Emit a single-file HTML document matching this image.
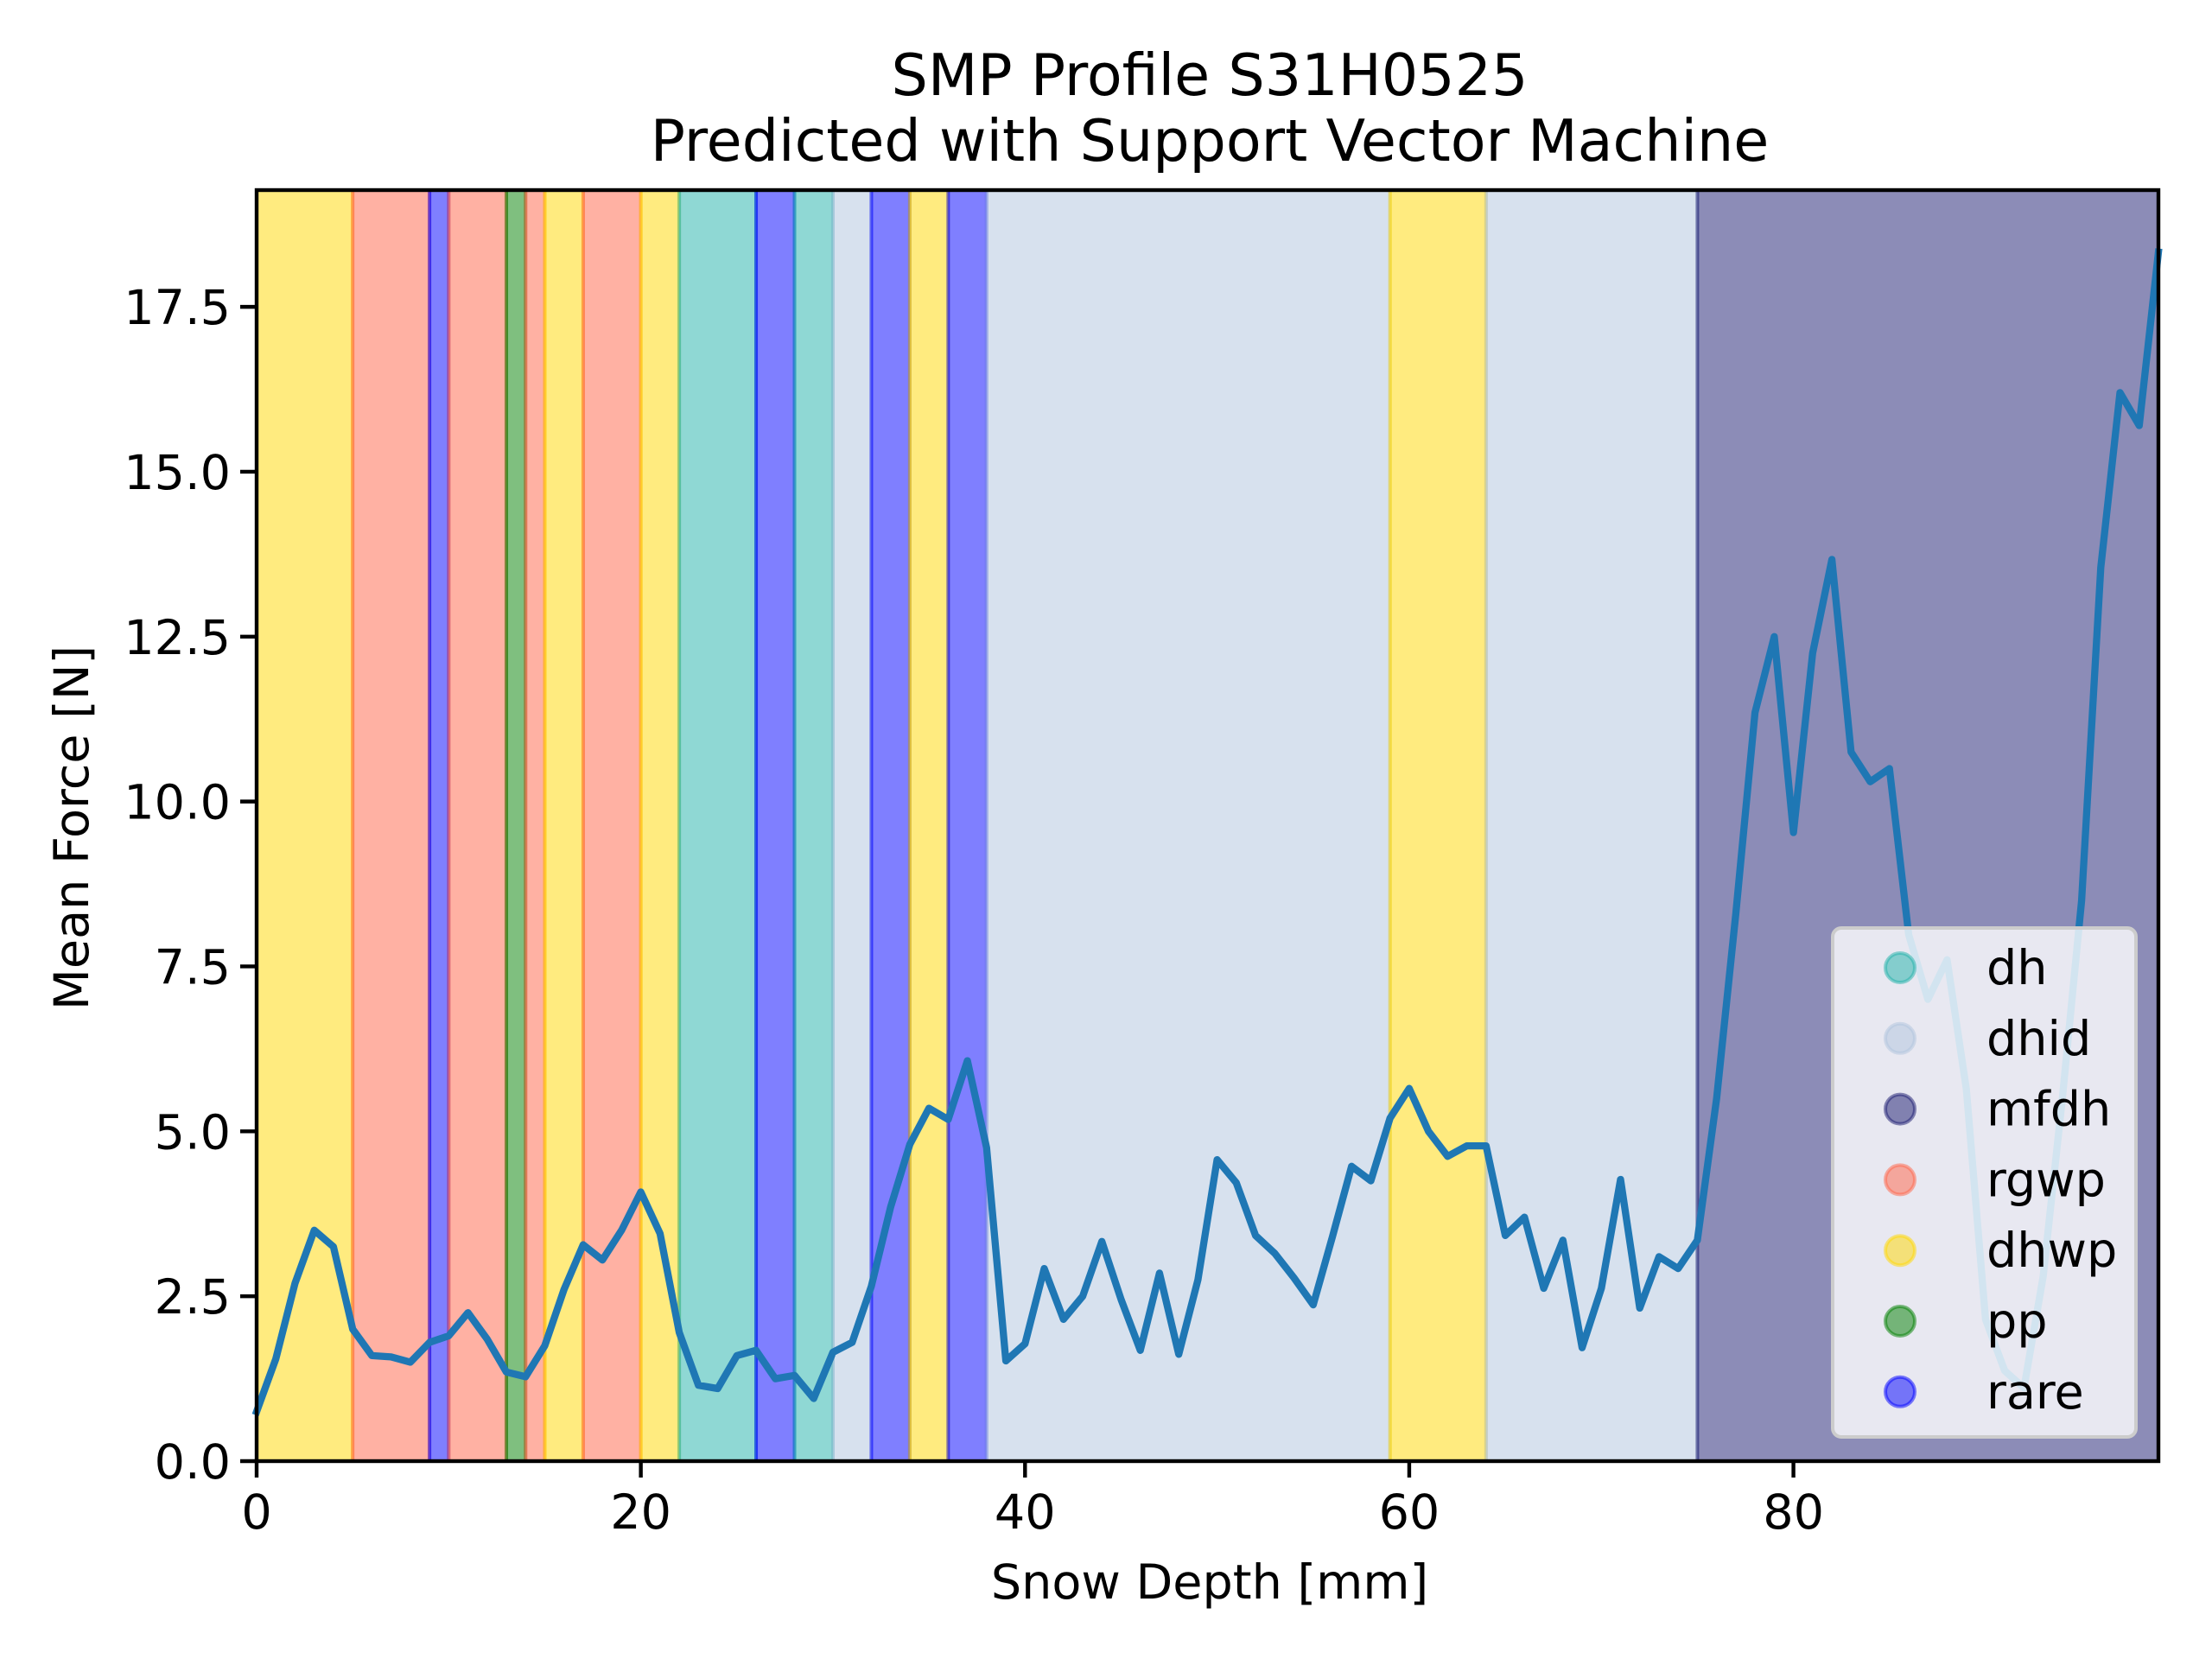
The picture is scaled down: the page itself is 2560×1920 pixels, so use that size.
<!DOCTYPE html>
<html><head><meta charset="utf-8"><style>
html,body{margin:0;padding:0;background:#fff;}
svg{display:block;font-family:"DejaVu Sans","Liberation Sans",sans-serif;}
</style></head><body>
<svg id="chart" width="2560" height="1920" viewBox="0 0 2560 1920" xmlns="http://www.w3.org/2000/svg">
<rect width="2560" height="1920" fill="#fff"/>
<g id="spans"></g>
<g id="lineg"></g>
<g id="axes"></g>
<g id="legend"></g>
<text x="1400" y="110" font-size="66.7" text-anchor="middle">SMP Profile S31H0525</text>
<text x="1400" y="186" font-size="66.7" text-anchor="middle">Predicted with Support Vector Machine</text>
<text x="1400" y="1850" font-size="55.6" text-anchor="middle">Snow Depth [mm]</text>
<text x="0" y="0" font-size="55.6" text-anchor="middle" transform="translate(102,958) rotate(-90)">Mean Force [N]</text>
</svg>
<script>
const forceValues = [0.75,1.55,2.7,3.5,3.25,2.0,1.6,1.58,1.5,1.8,1.9,2.25,1.85,1.35,1.28,1.75,2.6,3.28,3.05,3.5,4.08,3.45,1.95,1.15,1.1,1.6,1.68,1.25,1.3,0.95,1.65,1.8,2.65,3.85,4.8,5.35,5.18,6.07,4.75,1.52,1.78,2.92,2.15,2.5,3.33,2.45,1.68,2.85,1.62,2.75,4.57,4.22,3.42,3.15,2.78,2.37,3.4,4.47,4.25,5.2,5.65,5.0,4.62,4.78,4.78,3.42,3.7,2.62,3.35,1.72,2.62,4.27,2.32,3.1,2.92,3.35,5.5,8.3,11.35,12.5,9.53,12.25,13.67,10.75,10.3,10.5,7.98,7.0,7.6,5.64,2.15,1.37,1.11,2.8,5.5,8.5,13.55,16.2,15.7,18.33];
const spanStarts = [0,5,9,10,13,14,15,17,20,22,26,28,30,32,34,36,38,59,64,75];
const spanEnds   = [5,9,10,13,14,15,17,20,22,26,28,30,32,34,36,38,59,64,75,99];
const spanClasses = ["dhwp","rgwp","rare","rgwp","pp","rgwp","dhwp","rgwp","dhwp","dh","rare","dh","dhid","rare","dhwp","rare","dhid","dhwp","dhid","mfdh"];
const legendLabels = ["dh","dhid","mfdh","rgwp","dhwp","pp","rare"];
const yTicks = [0,2.5,5,7.5,10,12.5,15,17.5];
const yTickLabels = ["0.0","2.5","5.0","7.5","10.0","12.5","15.0","17.5"];
const xTicks = [0,20,40,60,80];
const xTickLabels = ["0","20","40","60","80"];

const colors = {dh:"#20b2aa",dhid:"#b0c4de",mfdh:"#191970",rgwp:"#ff6347",dhwp:"#ffd700",pp:"#008000",rare:"#0000ff"};
const L=297,R=2498,T=220,B=1691,XMAX=99,YMAX=19.27;
const xs=v=>L+(v/XMAX)*(R-L);
const ys=v=>B-(v/YMAX)*(B-T);
const NS="http://www.w3.org/2000/svg";
function mk(tag,attrs,parent){const e=document.createElementNS(NS,tag);for(const k in attrs)e.setAttribute(k,attrs[k]);parent.appendChild(e);return e;}

const spans=document.getElementById('spans');
for(let i=0;i<spanStarts.length;i++){
  const c=colors[spanClasses[i]];
  const r=mk('rect',{x:xs(spanStarts[i]),y:T,width:xs(spanEnds[i])-xs(spanStarts[i]),height:B-T,fill:c,'fill-opacity':0.5,stroke:c,'stroke-opacity':0.5,'stroke-width':4},spans);
  
  
}
const lineg=document.getElementById('lineg');
const pts=forceValues.map((v,i)=>xs(i).toFixed(1)+','+ys(v).toFixed(1)).join(' ');
const pl=mk('polyline',{points:pts,fill:'none',stroke:'#1f77b4','stroke-width':8.3,'stroke-linejoin':'round','stroke-linecap':'square'},lineg);



const axes=document.getElementById('axes');
const fr=mk('rect',{x:L,y:T,width:R-L,height:B-T,fill:'none',stroke:'#000','stroke-width':4.4},axes);


yTicks.forEach((v,i)=>{
  const t=mk('line',{x1:L-19,x2:L,y1:ys(v),y2:ys(v),stroke:'#000','stroke-width':4.4},axes);
  
  
  const tx=mk('text',{x:L-30,y:ys(v)+20,'font-size':55.6,'text-anchor':'end'},axes);
  tx.textContent=yTickLabels[i];
  
  
});
xTicks.forEach((v,i)=>{
  const t=mk('line',{x1:xs(v),x2:xs(v),y1:B,y2:B+19,stroke:'#000','stroke-width':4.4},axes);
  
  
  const tx=mk('text',{x:xs(v),y:B+78,'font-size':55.6,'text-anchor':'middle'},axes);
  tx.textContent=xTickLabels[i];
  
  
});

const lg=document.getElementById('legend');
const box=mk('rect',{x:2121,y:1074,width:351,height:589,rx:10,fill:'#ffffff','fill-opacity':0.8,stroke:'#cccccc','stroke-width':4},lg);


legendLabels.forEach((lab,i)=>{
  const y=1120+i*81.8;
  const c=colors[lab];
  const m=mk('circle',{cx:2199,cy:y,r:17,fill:c,'fill-opacity':0.5,stroke:c,'stroke-opacity':0.5,'stroke-width':4},lg);
  
  
  const t=mk('text',{x:2299,y:y+19,'font-size':55.6},lg);
  t.textContent=lab;
  
  
});
</script>
</body></html>
